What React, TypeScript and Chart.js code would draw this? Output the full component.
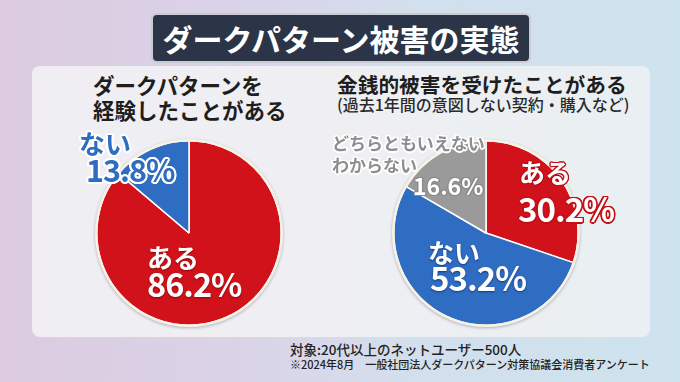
import React, { useEffect, useRef } from "react";
import { Chart, registerables } from "chart.js";

Chart.register(...registerables);

const pie1Labels = ["ある", "ない"];
const pie1Values = [86.2, 13.8];
const pie1Colors = ["#d2121a", "#2f6dc2"];

const pie2Labels = ["ある", "ない", "どちらともいえない・わからない"];
const pie2Values = [30.2, 53.2, 16.6];
const pie2Colors = ["#d2121a", "#2f6dc2", "#9a9a9a"];

const FONT = '"Noto Sans CJK JP", "Noto Sans", sans-serif';

const outerRing = {
  id: "outerRing",
  afterDatasetsDraw(chart: any) {
    const meta = chart.getDatasetMeta(0);
    const arc = meta.data[0] as any;
    if (!arc) return;
    const ctx = chart.ctx;
    ctx.save();
    ctx.beginPath();
    ctx.arc(arc.x, arc.y, arc.outerRadius + 0.5, 0, Math.PI * 2);
    ctx.strokeStyle = "#f8f2e6";
    ctx.lineWidth = 2.5;
    ctx.stroke();
    ctx.restore();
  },
};

function Pie({ labels, values, colors, left, top }: any) {
  const ref = useRef<HTMLCanvasElement>(null);
  useEffect(() => {
    const chart = new Chart(ref.current!, {
      type: "pie",
      data: {
        labels,
        datasets: [
          {
            data: values,
            backgroundColor: colors,
            borderColor: "#ffffff",
            borderWidth: 1.5,
          },
        ],
      },
      options: {
        responsive: false,
        animation: false,
        layout: { padding: 5 },
        plugins: { legend: { display: false }, tooltip: { enabled: false } },
      },
      plugins: [outerRing],
    });
    return () => chart.destroy();
  }, []);
  return (
    <canvas
      ref={ref}
      width={196}
      height={196}
      style={{
        position: "absolute",
        left,
        top,
        width: 196,
        height: 196,
        filter: "drop-shadow(0px 1px 1.5px rgba(60,60,80,0.35))",
      }}
    />
  );
}

const outline = (c: string, w: number) => {
  const s: string[] = [];
  for (let i = 0; i < 16; i++) {
    const a = (i / 16) * Math.PI * 2;
    s.push(`${(Math.cos(a) * w).toFixed(2)}px ${(Math.sin(a) * w).toFixed(2)}px 0 ${c}`);
  }
  return s.join(",");
};

function T({ x, y, size, color, weight = 700, shadow, children, ls = 0 }: any) {
  return (
    <div
      style={{
        position: "absolute",
        left: x,
        top: y,
        fontSize: size,
        lineHeight: 1,
        color,
        fontWeight: weight,
        whiteSpace: "nowrap",
        textShadow: shadow,
        letterSpacing: ls,
        fontFamily: FONT,
      }}
    >
      {children}
    </div>
  );
}

export default function App() {
  return (
    <div
      style={{
        position: "fixed",
        left: 0,
        top: 0,
        width: 680,
        height: 382,
        overflow: "hidden",
        fontFamily: FONT,
        background:
          "linear-gradient(90deg, #dccbe0 0%, #dad3e8 35%, #d3dfec 60%, #cde3ee 100%)",
      }}
    >
      {/* panel */}
      <div
        style={{
          position: "absolute",
          left: 32,
          top: 66,
          width: 618,
          height: 271,
          borderRadius: 8,
          background:
            "linear-gradient(90deg, #f0eef2 0%, #efeff2 50%, #e9eff3 100%)",
        }}
      />
      {/* title box */}
      <div
        style={{
          position: "absolute",
          left: 151,
          top: 13,
          width: 380,
          height: 50,
          boxSizing: "border-box",
          borderRadius: 6,
          background: "#2b3547",
          border: "2px solid rgba(255,255,255,0.75)",
          display: "flex",
          alignItems: "center",
          justifyContent: "center",
          color: "#ffffff",
          fontSize: 30,
          fontWeight: 700,
          lineHeight: 1,
          letterSpacing: 0,
        }}
      >
        ダークパターン被害の実態
      </div>

      {/* left heading */}
      <T x={93} y={74} size={21.5} color="#1e1e1e">ダークパターンを</T>
      <T x={93} y={99} size={21.5} color="#1e1e1e">経験したことがある</T>

      {/* right heading */}
      <T x={337} y={74} size={20.7} color="#1e1e1e">金銭的被害を受けたことがある</T>
      <T x={337} y={96} size={16} color="#2a2a2a" weight={500}>(過去1年間の意図しない契約・購入など)</T>

      <Pie labels={pie1Labels} values={pie1Values} colors={pie1Colors} left={91} top={135} />
      <Pie labels={pie2Labels} values={pie2Values} colors={pie2Colors} left={388} top={135} />

      {/* pie 1 labels */}
      <T x={79} y={130} size={26} color="#2f6dc2" shadow={outline("#ffffff", 2)}>ない</T>
      <T x={86} y={154} size={30.5} color="#2f6dc2" shadow={outline("#ffffff", 2)} ls={-1}>13.8%</T>
      <T x={147} y={244} size={26} color="#ffffff" shadow="0 1px 2px rgba(80,0,0,0.6)">ある</T>
      <T x={147} y={267} size={32.5} color="#ffffff" shadow="0 1px 2px rgba(80,0,0,0.6)" ls={-1}>86.2%</T>

      {/* pie 2 labels */}
      <T x={332} y={134} size={17} color="#8e8e8e" shadow={outline("#ffffff", 1.5)}>どちらともいえない</T>
      <T x={332} y={156} size={17} color="#8e8e8e" shadow={outline("#ffffff", 1.5)}>わからない</T>
      <T x={413} y={174} size={23} color="#ffffff" shadow={outline("#8a8a8a", 1.2)}>16.6%</T>
      <T x={519} y={159} size={26} color="#ffffff" shadow={outline("#b80f15", 1.2)}>ある</T>
      <T x={518} y={192} size={33} color="#ffffff" shadow={outline("#c41118", 1.5)} ls={-1}>30.2%</T>
      <T x={428} y={239} size={26} color="#ffffff" shadow="0 1px 2px rgba(0,20,80,0.6)">ない</T>
      <T x={430} y={261} size={33} color="#ffffff" shadow="0 1px 2px rgba(0,20,80,0.6)" ls={-1}>53.2%</T>

      {/* footer */}
      <T x={290} y={343} size={13.5} color="#222222" weight={500}>対象:20代以上のネットユーザー500人</T>
      <T x={290} y={359} size={11} color="#222222" weight={500}>※2024年8月　一般社団法人ダークパターン対策協議会消費者アンケート</T>
    </div>
  );
}
